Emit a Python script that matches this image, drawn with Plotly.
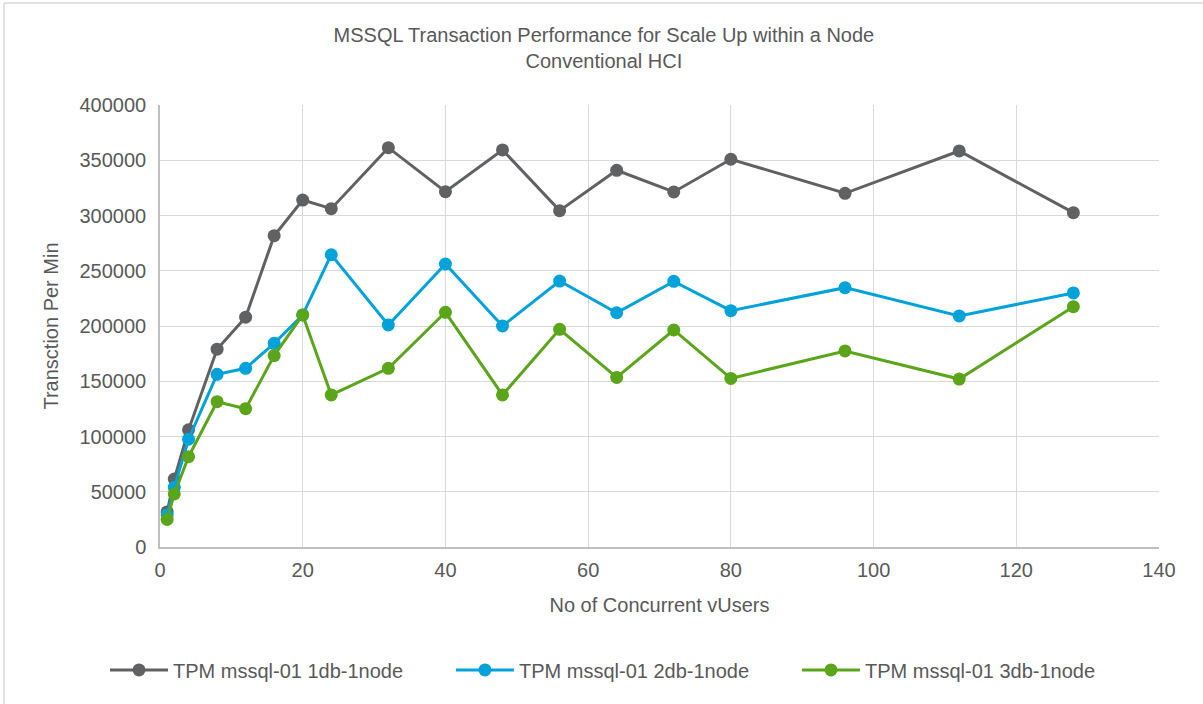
import plotly.graph_objects as go

users = [1, 2, 4, 8, 12, 16, 20, 24, 32, 40, 48, 56, 64, 72, 80, 96, 112, 128]
tpm_1db = [31700, 61500, 106000, 179000, 208000, 281700, 314000, 306200, 361400, 321600,
           359300, 304400, 340900, 321300, 350900, 320100, 358400, 302600]
tpm_2db = [29000, 54000, 97500, 156300, 161700, 184300, 210000, 264500, 200900, 256100,
           200000, 240700, 212000, 240400, 213900, 234700, 209100, 229900]
tpm_3db = [25000, 48000, 81700, 131500, 125200, 173200, 210000, 137600, 161700, 212400,
           137600, 197000, 153500, 196400, 152600, 177400, 152000, 217500]

series = [
    ("TPM mssql-01 1db-1node", tpm_1db, "#606163"),
    ("TPM mssql-01 2db-1node", tpm_2db, "#00A2DA"),
    ("TPM mssql-01 3db-1node", tpm_3db, "#5AA51A"),
]

fig = go.Figure()
for name, vals, col in series:
    fig.add_trace(go.Scatter(
        x=users, y=vals, name=name, mode="lines+markers",
        line=dict(color=col, width=3),
        marker=dict(color=col, size=13),
    ))

font_col = "#595959"
FAM = "Liberation Sans, Arial, sans-serif"
FS = 20
fig.update_layout(
    width=1203, height=704,
    paper_bgcolor="white", plot_bgcolor="white",
    margin=dict(l=160, r=44, t=105, b=157, autoexpand=False),
    font=dict(family=FAM, size=FS, color=font_col),
    title=dict(text="MSSQL Transaction Performance for Scale Up within a Node<br>Conventional HCI",
               x=0.502, xanchor="center", y=1 - 42 / 704, yanchor="middle",
               font=dict(size=FS, color=font_col)),
    xaxis=dict(range=[0, 140], dtick=20, showgrid=True, gridcolor="#d9d9d9", gridwidth=1,
               showline=True, linecolor="#bfbfbf", linewidth=1.5, zeroline=False,
               ticks="", ticklabelstandoff=4,
               title=dict(text="No of Concurrent vUsers", standoff=18, font=dict(size=FS))),
    yaxis=dict(range=[0, 400000], dtick=50000, showgrid=True, gridcolor="#d9d9d9", gridwidth=1,
               showline=True, linecolor="#bfbfbf", linewidth=1.5, zeroline=False,
               ticks="", tickformat="d", ticklabelstandoff=8,
               title=dict(text="Transction Per Min", standoff=16, font=dict(size=FS))),
    legend=dict(orientation="h", x=(105 - 160) / 999, xanchor="left", y=-0.278, yanchor="middle",
                font=dict(size=FS), itemwidth=58, entrywidth=273, entrywidthmode="pixels",
                tracegroupgap=0),
    showlegend=True,
)

fig.add_shape(type="line", xref="paper", yref="paper",
              x0=(4 - 160) / 999, x1=(1203 - 160) / 999,
              y0=(547 - 3) / 442, y1=(547 - 3) / 442,
              line=dict(color="#d9d9d9", width=1.5))
fig.add_shape(type="line", xref="paper", yref="paper",
              x0=(4 - 160) / 999, x1=(4 - 160) / 999,
              y0=(547 - 3) / 442, y1=(547 - 704) / 442,
              line=dict(color="#d9d9d9", width=1.5))

fig.write_html("out.html", config={"displayModeBar": False},
               post_script="document.body.style.margin='0';")
